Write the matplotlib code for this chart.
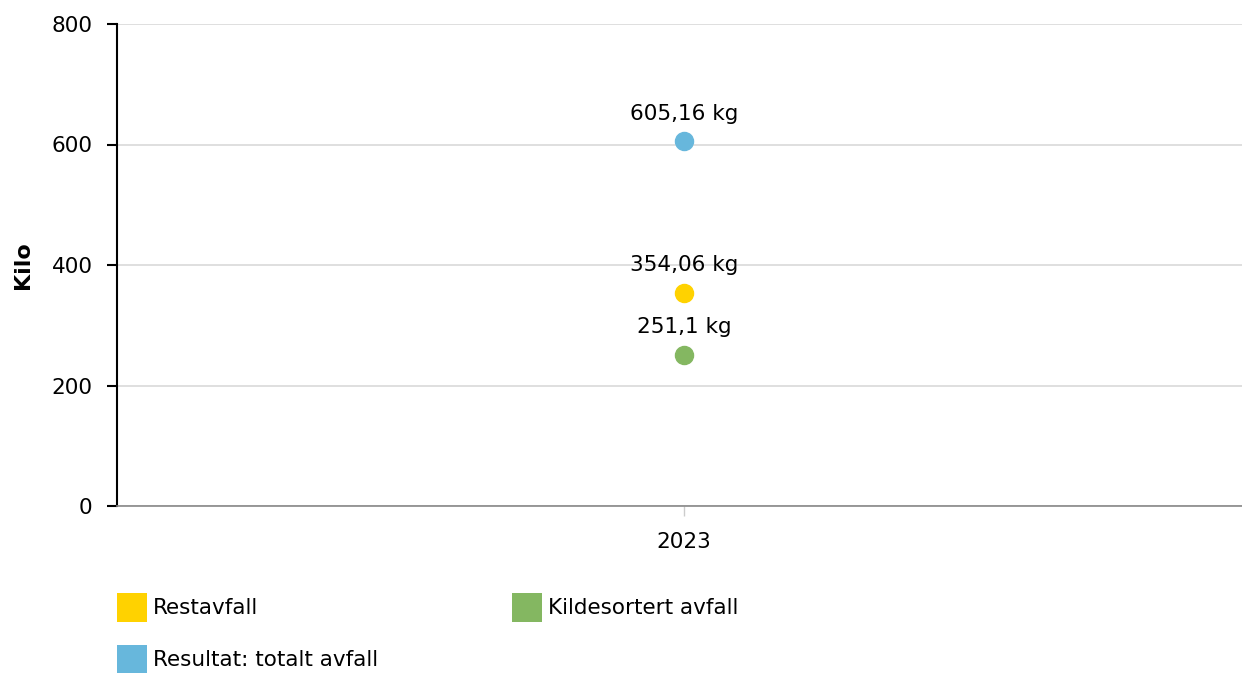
import matplotlib.pyplot as plt
from matplotlib.patches import Rectangle

# data
years = ["2023"]
series_names = ["Restavfall", "Kildesortert avfall", "Resultat: totalt avfall"]
series_values = [354.06, 251.1, 605.16]
series_colors = ["#FFD200", "#84B761", "#67B7DC"]
y_ticks = [0, 200, 400, 600, 800]

W, H = 1242, 673
FS = 15.5
fig = plt.figure(figsize=(W / 100, H / 100), dpi=100)
plt.rcParams['font.family'] = ['DejaVu Sans']

# axes box in pixels: left 117, right 1251, top 24, bottom 506
ax = fig.add_axes([117 / W, 1 - 506 / H, (1251 - 117) / W, (506 - 24) / H])
ax.set_xlim(-0.5, 0.5)
ax.set_ylim(0, 800)
ax.set_yticks(y_ticks)
ax.set_yticklabels([str(t) for t in y_ticks], fontsize=FS)
ax.set_xticks([0])
ax.set_xticklabels(years, fontsize=FS)

for s in ["top", "right"]:
    ax.spines[s].set_visible(False)
ax.spines["left"].set_color("black")
ax.spines["left"].set_linewidth(1.5)
ax.spines["bottom"].set_color("#888888")
ax.spines["bottom"].set_linewidth(1.2)
ax.tick_params(axis="y", length=7, width=1.5, color="black", pad=10.5)
ax.tick_params(axis="x", length=7, width=1, color="#cccccc", pad=12)

ax.grid(axis="y", color="#d9d9d9", linewidth=1.2)
ax.set_axisbelow(True)
ax.set_ylabel("Kilo", fontsize=16, fontweight="bold")
ax.yaxis.set_label_coords(-84 / (1251 - 117), 0.5)

for name, val, col in zip(series_names, series_values, series_colors):
    ax.plot([0], [val], "o", color=col, markersize=13, zorder=3, clip_on=False)
    label = f"{val:g}".replace(".", ",") + " kg"
    ax.annotate(label, (0, val), xytext=(0, 20), textcoords="offset points",
                ha="center", va="center", fontsize=FS)

# legend drawn by hand
legend_pos = [(117, 593), (512, 593), (117, 645)]
for (lx, ly), name, col in zip(legend_pos, series_names, series_colors):
    fig.add_artist(Rectangle((lx / W, 1 - (ly + 29) / H), 30 / W, 29 / H,
                             transform=fig.transFigure, color=col, lw=0))
    fig.text((lx + 36) / W, 1 - (ly + 15) / H, name, fontsize=FS, va="center", ha="left")

fig.savefig("out.png", dpi=100)
